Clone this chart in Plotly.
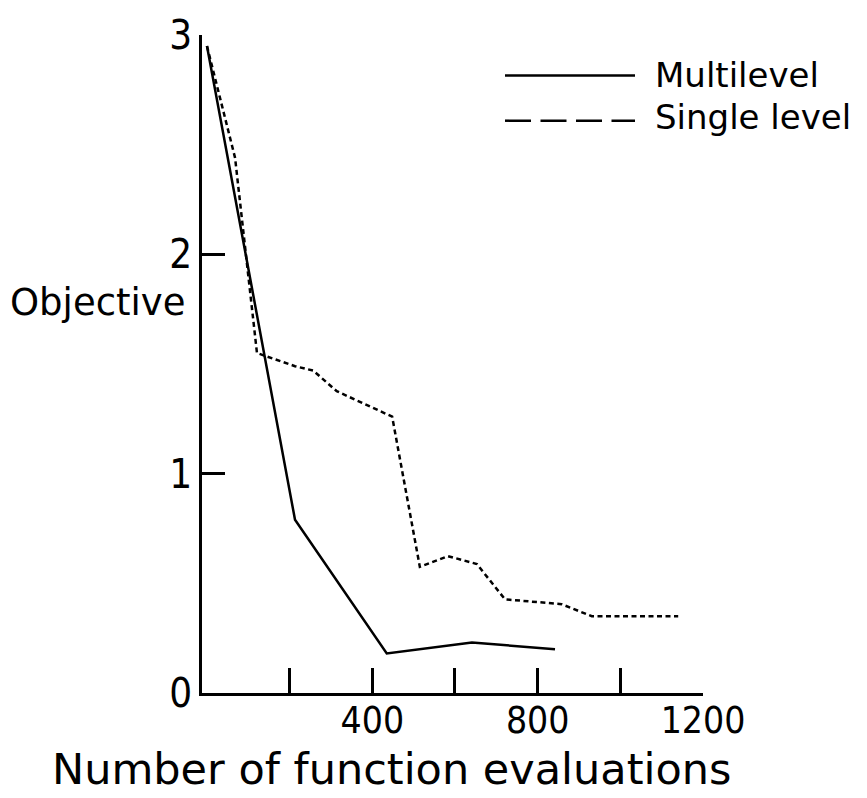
import plotly.graph_objects as go

# ---- data ----
multi_x = [0, 213, 435, 641, 842]
multi_y = [2.95, 0.79, 0.18, 0.23, 0.20]

single_x = [0, 68, 121, 213, 257, 314, 448, 515, 583, 653, 721, 858, 931, 1140]
single_y = [2.95, 2.44, 1.55, 1.49, 1.47, 1.376, 1.26, 0.575, 0.624, 0.588, 0.427, 0.405, 0.35, 0.35]

x_tick_vals = [200, 400, 600, 800, 1000, 1200]
x_tick_text = ["", "400", "", "800", "", "1200"]
y_tick_vals = [0, 1, 2, 3]
y_tick_text = ["0", "1", "2", "3"]

series_names = ["Multilevel", "Single level"]
x_title = "Number of function evaluations"
y_title = "Objective"

TEXT_FONT = "DejaVu Sans, Noto Sans, sans-serif"
TICK_FONT = ("Liberation Sans Narrow, Noto Sans ExtraCondensed, Noto Sans Condensed, "
             "DejaVu Sans Condensed, sans-serif")

fig = go.Figure()
fig.add_trace(go.Scatter(x=multi_x, y=multi_y, mode="lines",
                         line=dict(color="black", width=2.5),
                         name=series_names[0], showlegend=False))
fig.add_trace(go.Scatter(x=single_x, y=single_y, mode="lines",
                         line=dict(color="black", width=2.5, dash="5px,3.5px"),
                         name=series_names[1], showlegend=False))

L, R, T, B = 202, 164, 25, 105
W, H = 867, 798
pw, ph = W - L - R, H - T - B

def px(xp):
    return (xp - L) / pw

def py(yp):
    return (H - B - yp) / ph

# legend drawn as shapes + text
fig.add_shape(type="line", xref="paper", yref="paper",
              x0=px(505), x1=px(635), y0=py(66), y1=py(66),
              line=dict(color="black", width=2.5))
fig.add_shape(type="line", xref="paper", yref="paper",
              x0=px(505), x1=px(635), y0=py(112), y1=py(112),
              line=dict(color="black", width=2.5, dash="26px,9.5px"))
fig.add_annotation(x=px(653), y=py(66), xref="paper", yref="paper",
                   text=series_names[0], showarrow=False,
                   xanchor="left", yanchor="middle",
                   font=dict(family=TEXT_FONT, size=34, color="black"))
fig.add_annotation(x=px(653), y=py(108), xref="paper", yref="paper",
                   text=series_names[1], showarrow=False,
                   xanchor="left", yanchor="middle",
                   font=dict(family=TEXT_FONT, size=34, color="black"))

# axis titles
fig.add_annotation(x=px(97), y=py(297), xref="paper", yref="paper",
                   text=y_title, showarrow=False,
                   xanchor="center", yanchor="middle",
                   font=dict(family=TEXT_FONT, size=37, color="black"))
fig.add_annotation(x=px(391), y=py(770), xref="paper", yref="paper",
                   text=x_title, showarrow=False,
                   xanchor="center", yanchor="middle",
                   font=dict(family=TEXT_FONT, size=43, color="black"))

fig.update_layout(
    width=W, height=H,
    margin=dict(l=L, r=R, t=T, b=B, pad=0),
    plot_bgcolor="white", paper_bgcolor="white",
    showlegend=False,
)
fig.update_xaxes(range=[-12, 1200], showgrid=False, zeroline=False,
                 showline=True, linecolor="black", linewidth=2.5,
                 ticks="inside", ticklen=25, tickwidth=2.5, tickcolor="black",
                 tickvals=x_tick_vals, ticktext=x_tick_text,
                 ticklabelstandoff=-7,
                 tickfont=dict(family=TICK_FONT, size=37, color="black"))
fig.update_yaxes(range=[0, 3], showgrid=False, zeroline=False,
                 showline=True, linecolor="black", linewidth=2.5,
                 ticks="inside", ticklen=23, tickwidth=2.5, tickcolor="black",
                 tickvals=y_tick_vals, ticktext=y_tick_text,
                 ticklabelstandoff=-1,
                 tickfont=dict(family=TICK_FONT, size=40, color="black"))

css_js = (
    "var s='margin:0;padding:0;width:867px;height:798px;overflow:hidden;';"
    "document.documentElement.style.cssText=s;"
    "document.body.style.cssText=s;"
)

fig.write_html(
    "out.html",
    config={"displayModeBar": False},
    post_script=css_js,
)
